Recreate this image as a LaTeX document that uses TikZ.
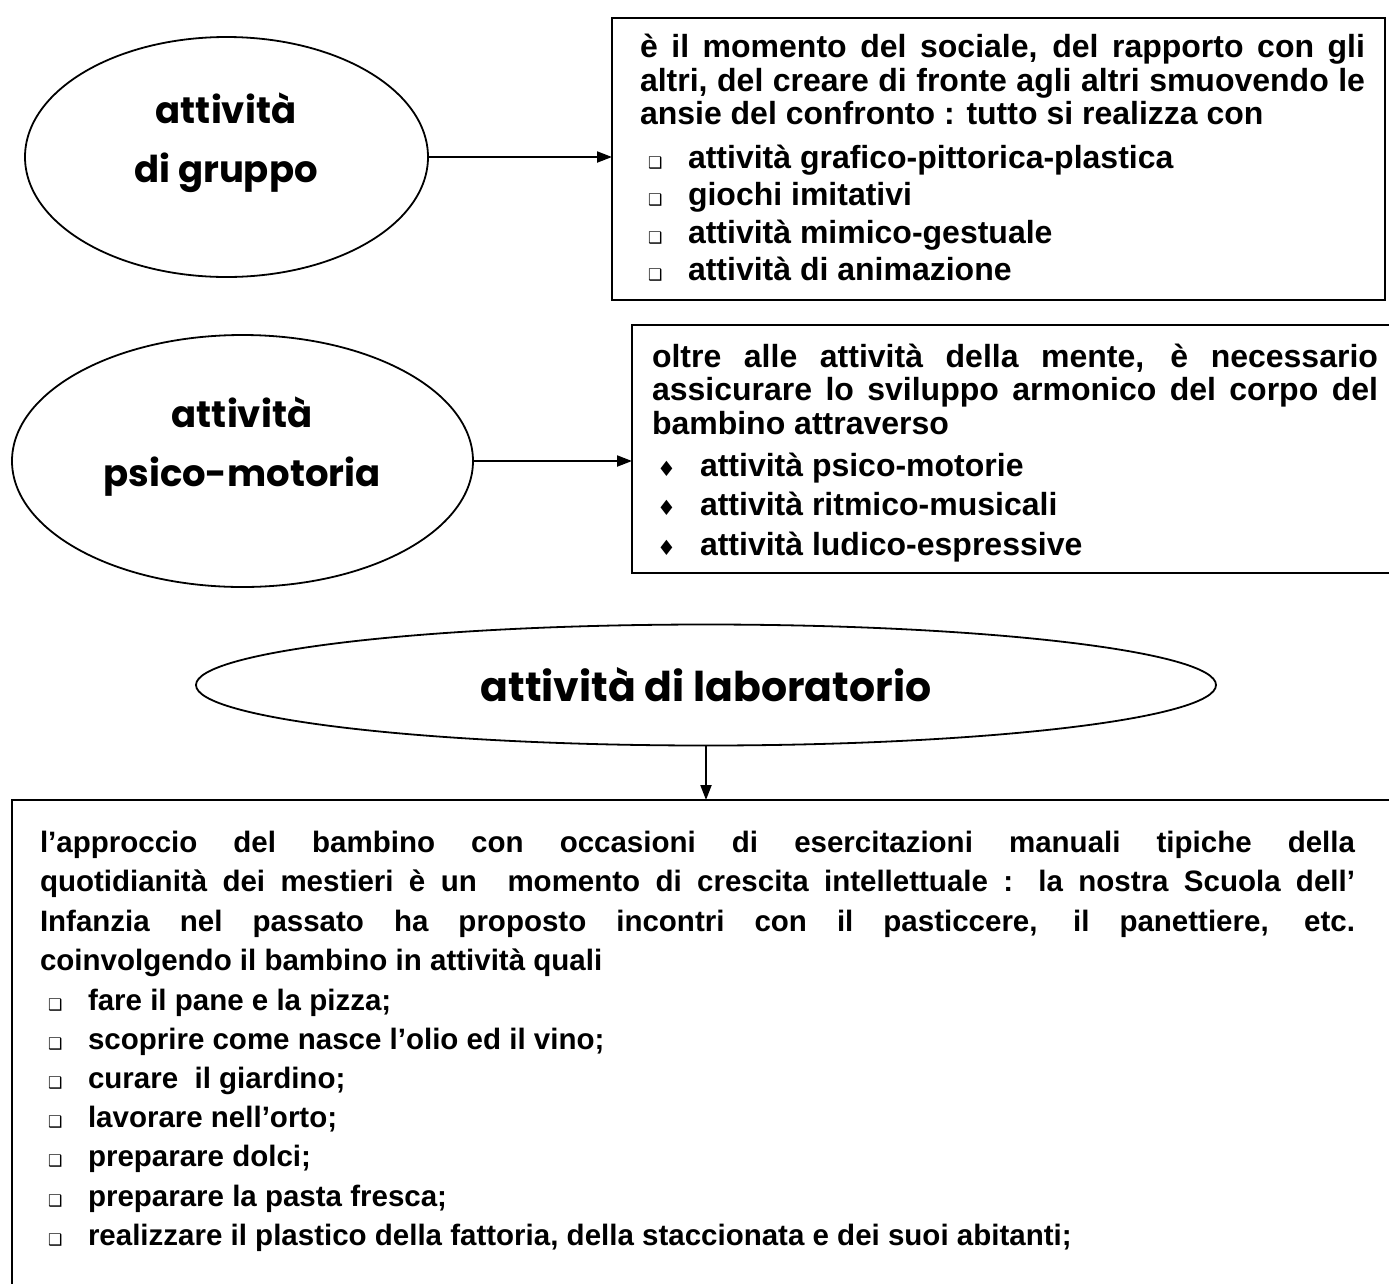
\documentclass[tikz,border=0pt]{standalone}
\usepackage{fontspec}
\setmainfont{Liberation Sans}
\newfontfamily\dejavu{DejaVu Sans}
\newfontfamily\comic{Poppins}
\usetikzlibrary{shapes.geometric,arrows.meta}

\newcommand{\bodyfont}{\fontsize{32}{32}\selectfont\bfseries}
\newcommand{\bodyfontsm}{\fontsize{29.5}{29.5}\selectfont\bfseries}
\newcommand{\ovalfont}{\comic\bfseries\fontsize{37}{59}\selectfont}
\newcommand{\ovalfontbig}{\comic\bfseries\fontsize{41}{50}\selectfont}
\newcommand{\sqbul}{{\dejavu\fontsize{16}{16}\selectfont ❑}}
\newcommand{\dmbul}{{\dejavu\fontsize{21}{21}\selectfont ♦}}
\newcommand{\LinesSetup}{\baselineskip=0pt\lineskip=0pt\lineskiplimit=-1000pt\parindent=0pt\parskip=0pt}
\newcommand{\Brk}[1]{\par\vspace{#1}}
\newcommand{\SqItem}[1]{\hspace*{8pt}\makebox[40pt][l]{\sqbul}#1}
\newcommand{\DmItem}[1]{\hspace*{5pt}\makebox[43pt][l]{\dmbul}#1}
\newcommand{\TwoLines}[2]{\begin{tabular}[t]{@{}c@{}}#1\\#2\end{tabular}}

\tikzset{
  oval/.style={draw, ellipse, line width=1.8pt, inner sep=0pt, align=center, font=\ovalfont},
  ovaltext/.style={anchor=base, inner sep=0pt, font=\ovalfont},
  frame/.style={draw, line width=2.4pt, inner sep=0pt, outer sep=0pt, anchor=north west},
  body/.style={anchor=base west, inner sep=0pt, outer sep=0pt, font=\bodyfont},
  conn/.style={line width=2pt, -{Triangle[length=15pt,width=11pt]}}
}

\begin{document}
\begin{tikzpicture}[x=1pt, y=-1pt]
\path[use as bounding box] (0,0) rectangle (1389,1283);
\fill[white] (0,0) rectangle (1389,1283);
\clip (0,0) rectangle (1389,1283);

% ---- ellipses
\node[oval, minimum width=403pt, minimum height=240pt] (e1) at (226.5,157) {};
\node[oval, minimum width=461pt, minimum height=252pt] (e2) at (242.5,461) {};
\node[oval, minimum width=1020pt, minimum height=121pt, font=\ovalfontbig] (e3) at (706,685) {attività di laboratorio};
\node[ovaltext] (e1t) at (226,123) {\TwoLines{attività}{di gruppo}};
\node[ovaltext] (e2t) at (242,427) {\TwoLines{attività}{psico-motoria}};

% ---- boxes
\node[frame, minimum width=773pt, minimum height=282pt] (b1) at (612,18) {};
\node[frame, minimum width=800pt, minimum height=248pt] (b2) at (632,325) {};
\node[frame, minimum width=1420pt, minimum height=520pt] (b3) at (12,800) {};

% ---- box texts
\node[body] (t1) at (640,57) {\parbox[t]{725pt}{\LinesSetup
\makebox[725pt][s]{è il momento del sociale, del rapporto con gli}\Brk{34pt}
\makebox[725pt][s]{altri, del creare di fronte agli altri smuovendo le}\Brk{33pt}
ansie del confronto : tutto si realizza con\Brk{44pt}
\SqItem{attività grafico-pittorica-plastica}\Brk{37.5pt}
\SqItem{giochi imitativi}\Brk{37.5pt}
\SqItem{attività mimico-gestuale}\Brk{37.5pt}
\SqItem{attività di animazione}}};

\node[body] (t2) at (652,367) {\parbox[t]{726pt}{\LinesSetup
\makebox[726pt][s]{oltre alle attività della mente, è necessario}\Brk{33.5pt}
\makebox[726pt][s]{assicurare lo sviluppo armonico del corpo del}\Brk{33.5pt}
bambino attraverso\Brk{42pt}
\DmItem{attività psico-motorie}\Brk{39.5pt}
\DmItem{attività ritmico-musicali}\Brk{39.5pt}
\DmItem{attività ludico-espressive}}};

\node[body, font=\bodyfontsm] (t3) at (40,852) {\parbox[t]{1315pt}{\LinesSetup
\makebox[1315pt][s]{l’approccio del bambino con occasioni di esercitazioni manuali tipiche della}\Brk{39.5pt}
\makebox[1315pt][s]{quotidianità dei mestieri è un\ \ momento di crescita intellettuale : la nostra Scuola dell’}\Brk{39.5pt}
\makebox[1315pt][s]{Infanzia nel passato ha proposto incontri con il pasticcere, il panettiere, etc.}\Brk{39.5pt}
coinvolgendo il bambino in attività quali\Brk{39.5pt}
\SqItem{fare il pane e la pizza;}\Brk{39.2pt}
\SqItem{scoprire come nasce l’olio ed il vino;}\Brk{39.2pt}
\SqItem{curare\ \ il giardino;}\Brk{39.2pt}
\SqItem{lavorare nell’orto;}\Brk{39.2pt}
\SqItem{preparare dolci;}\Brk{39.2pt}
\SqItem{preparare la pasta fresca;}\Brk{39.2pt}
\SqItem{realizzare il plastico della fattoria, della staccionata e dei suoi abitanti;}}};

% ---- connectors
\draw[conn] (e1.east) -- (e1.east -| b1.west);
\draw[conn] (e2.east) -- (e2.east -| b2.west);
\draw[conn] (e3.south) -- (e3.south |- b3.north);
\end{tikzpicture}
\end{document}
